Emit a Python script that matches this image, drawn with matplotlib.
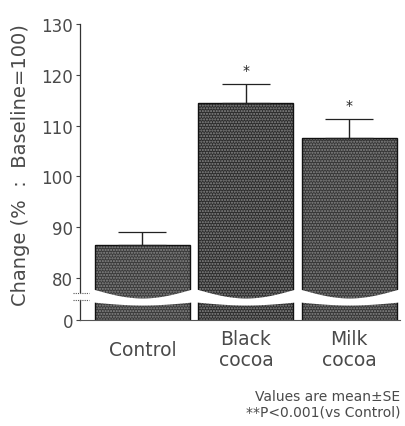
import numpy as np
import matplotlib.pyplot as plt
import matplotlib.transforms as mtransforms
from matplotlib.lines import Line2D

groups = ['Control', 'Black\ncocoa', 'Milk\ncocoa']
means = [86.5, 114.5, 107.6]
errors = [2.5, 3.7, 3.7]
stars = ['', '*', '*']
shades = ['#3a3a3a', '#2c2c2c', '#363636']
yticks = [80, 90, 100, 110, 120, 130]

plt.rcParams['font.family'] = ['DejaVu Sans']
ink = '#4a4a4a'

W, H = 405, 427
fig = plt.figure(figsize=(W / 100, H / 100), dpi=100)


def box(x0, y0, x1, y1):
    # pixel box (top-left origin) -> figure fraction
    return [x0 / W, 1 - y1 / H, (x1 - x0) / W, (y1 - y0) / H]


top = fig.add_axes(box(80, 25, 400, 300))
low = fig.add_axes(box(80, 301, 400, 321))

x = np.arange(len(groups))
width = 0.92

for ax in (top, low):
    ax.bar(x, means, width, color=shades, edgecolor='#8a8a8a',
           hatch='......', linewidth=0, zorder=2)
    ax.bar(x, means, width, color='none', edgecolor='#111111',
           linewidth=1.0, zorder=3)
    ax.set_xlim(-0.604, 2.49)
    ax.spines['top'].set_visible(False)
    ax.spines['right'].set_visible(False)
    ax.spines['left'].set_color('#333333')
    ax.spines['left'].set_linewidth(0.9)
    ax.tick_params(axis='y', length=3, width=0.8, colors='#444444',
                   labelcolor=ink, labelsize=12, pad=2)

top.set_ylim(75.87, 130)
top.set_yticks(yticks)
top.spines['bottom'].set_visible(False)
top.spines['left'].set_bounds(77.2, 130)
top.set_xticks([])

low.set_ylim(0, 3.94)
low.set_yticks([0])
low.spines['bottom'].set_color('#555555')
low.spines['bottom'].set_linestyle((0, (1, 1)))
low.set_xticks(x)
low.set_xticklabels(groups, fontsize=13.5, color=ink, linespacing=1.15)
low.tick_params(axis='x', length=0, pad=21)
for lab in low.get_xticklabels():
    lab.set_verticalalignment('center')

top.errorbar(x, means, yerr=[np.zeros(len(x)), errors], fmt='none',
             ecolor='#222222', elinewidth=1.0, capsize=17, capthick=0.9,
             zorder=4)
for xi, m, e, s in zip(x, means, errors, stars):
    top.text(xi, m + e + 2.8, s, ha='center', va='center', fontsize=10,
             color='#222222')

# wavy break through the bars
t = np.linspace(0, 1, 60)
tt = mtransforms.blended_transform_factory(top.transData, top.transAxes)
lt = mtransforms.blended_transform_factory(low.transData, low.transAxes)
for xi in x:
    xs = xi - width / 2 - 0.02 + t * (width + 0.04)
    sag = np.sin(np.pi * t)
    top.fill_between(xs, 0, (1 + 9 * (1 - sag)) / 275, color='white',
                     transform=tt, zorder=5, linewidth=0)
    low.fill_between(xs, 1 - (2 + 3 * sag) / 20, 1.05, color='white',
                     transform=lt, zorder=5, linewidth=0, clip_on=False)

# break marks on the y axis
for yp in (294, 301):
    fig.add_artist(Line2D([73 / W, 89 / W], [1 - yp / H, 1 - yp / H],
                          color='#555555', linewidth=0.8,
                          linestyle=(0, (1, 1))))

fig.text(21 / W, 1 - 165 / H, 'Change (%  :  Baseline=100)', rotation=90,
         ha='center', va='center', fontsize=14, color=ink)

fig.text(400 / W, 1 - 397 / H, 'Values are mean±SE', ha='right',
         va='center', fontsize=10, color=ink)
fig.text(400 / W, 1 - 413 / H, '**P<0.001(vs Control)', ha='right',
         va='center', fontsize=10, color=ink)

fig.savefig('out.png', dpi=100)
